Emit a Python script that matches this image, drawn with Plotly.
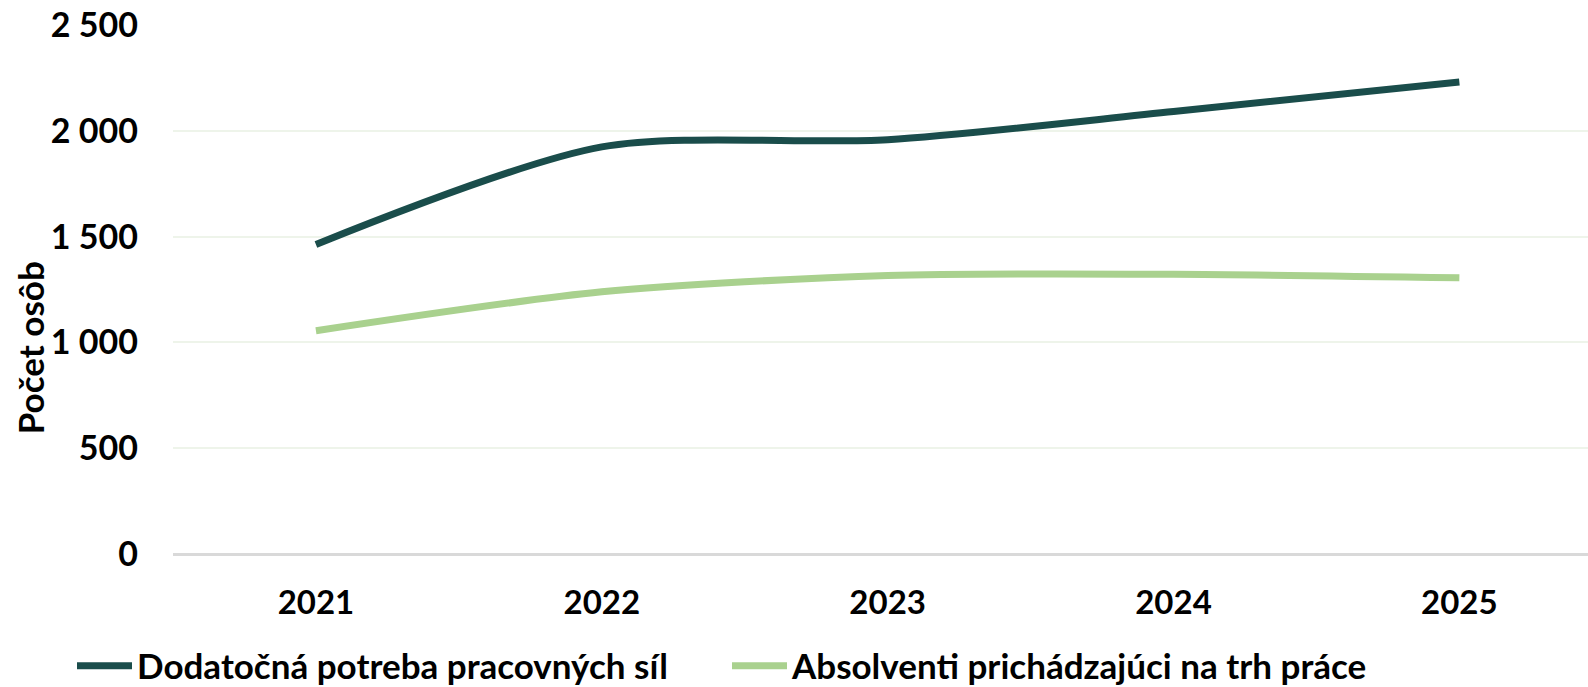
import plotly.graph_objects as go

years = ["2021", "2022", "2023", "2024", "2025"]
demand = [1463, 1924, 1958, 2091, 2231]
graduates = [1055, 1239, 1316, 1322, 1305]
y_ticks = [0, 500, 1000, 1500, 2000, 2500]
y_labels = ["0", "500", "1 000", "1 500", "2 000", "2 500"]

DARK = "#1A4D4B"
LIGHT = "#A9D18E"
FONT = "Lato"

W, H = 1588, 687

fig = go.Figure()
fig.add_trace(go.Scatter(
    x=years, y=demand, mode="lines",
    name="Dodatočná potreba pracovných síl",
    line=dict(color=DARK, width=7, shape="spline", smoothing=0.8),
))
fig.add_trace(go.Scatter(
    x=years, y=graduates, mode="lines",
    name="Absolventi prichádzajúci na trh práce",
    line=dict(color=LIGHT, width=7, shape="spline", smoothing=0.8),
))

fig.update_layout(
    width=W, height=H,
    margin=dict(l=173, r=0, t=25, b=133, autoexpand=False),
    paper_bgcolor="white", plot_bgcolor="white",
    font=dict(family=FONT, color="black", size=28),
    showlegend=True,
    legend=dict(
        orientation="h", xref="container", yref="container",
        x=72 / W, xanchor="left", y=1 - 666 / H, yanchor="middle",
        font=dict(family=FONT, size=35, color="black", weight="bold"),
        itemwidth=55, entrywidth=585, entrywidthmode="pixels",
        tracegroupgap=0, itemclick=False,
    ),
    annotations=[dict(
        text="<b>Počet osôb</b>", textangle=-90,
        xref="paper", yref="paper", x=(30 - 173) / 1415, y=0.389,
        xanchor="center", yanchor="middle", showarrow=False,
        font=dict(family=FONT, size=35, color="black"),
    )],
)

fig.update_xaxes(
    type="category", range=[-0.5, 4.45],
    showgrid=False, zeroline=False, showline=False,
    ticks="", ticklabelstandoff=26,
    tickfont=dict(family=FONT, size=33, color="black", weight="bold"),
)
fig.update_yaxes(
    range=[0, 2500], tickvals=y_ticks, ticktext=y_labels,
    showgrid=True, gridcolor="#EEF4EA", gridwidth=2,
    zeroline=True, zerolinecolor="#D9D9D9", zerolinewidth=3,
    showline=False, ticks="", ticklabelstandoff=34, ticklabeloverflow="allow",
    tickfont=dict(family=FONT, size=34, color="black", weight="bold"),
)

# drop the default page margin so the figure fills the window exactly
fig.write_html(
    "out.html",
    config={"displayModeBar": False},
    post_script="document.body.style.margin='0';",
)
